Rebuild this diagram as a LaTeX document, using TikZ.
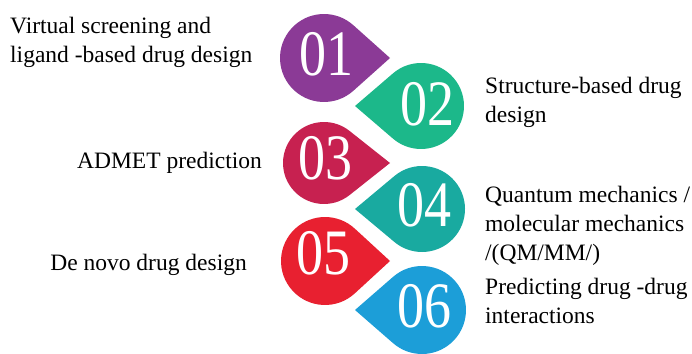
\documentclass[tikz,border=0pt]{standalone}
\usepackage{fontspec}
\setmainfont{Liberation Serif}

\definecolor{dropA}{RGB}{139,58,150}
\definecolor{dropB}{RGB}{28,184,138}
\definecolor{dropC}{RGB}{199,33,80}
\definecolor{dropD}{RGB}{25,170,160}
\definecolor{dropE}{RGB}{232,32,48}
\definecolor{dropF}{RGB}{28,158,216}

\tikzset{
	num/.style={text=white, font=\fontsize{54}{54}\selectfont, yscale=1.2, transform shape, inner sep=0pt},
	lbl/.style={font=\fontsize{23.5}{28.7}\selectfont, inner sep=0pt, align=left},
}

% teardrop: centre, radius, tip distance, direction (0 = right, 180 = left)
\newcommand{\drop}[5]{%
	\pgfmathsetmacro{\tang}{acos(#2/#3)}
	\fill[#5] (#1) ++(#4+\tang:#2) arc[start angle=#4+\tang, end angle=#4+360-\tang, radius=#2] -- ($(#1)+(#4:#3)$) -- cycle;
}

\usetikzlibrary{calc}

\begin{document}
\begin{tikzpicture}[x=1pt, y=-1pt]
	\useasboundingbox (0, 0) rectangle (692, 353);
	\coordinate (C1) at (324, 58);
	\coordinate (C2) at (421, 106);
	\coordinate (C3) at (324, 163);
	\coordinate (C4) at (422, 209);
	\coordinate (C5) at (325, 261);
	\coordinate (C6) at (422, 310);
	\drop{C1}{44}{66}{0}{dropA}
	\drop{C2}{43}{66}{180}{dropB}
	\drop{C3}{41}{66}{0}{dropC}
	\drop{C4}{43}{67}{180}{dropD}
	\drop{C5}{44}{65}{0}{dropE}
	\drop{C6}{44}{67}{180}{dropF}
	\node[num] (N1) at (326, 54) {01};
	\node[num] (N2) at (427, 104) {02};
	\node[num] (N3) at (325, 158) {03};
	\node[num] (N4) at (424, 205) {04};
	\node[num] (N5) at (323, 253) {05};
	\node[num] (N6) at (424, 306) {06};
	% multi-line labels are anchored on their last baseline
	\node[lbl, anchor=base west] (L1) at (10, 62) {Virtual screening and\\ligand -based drug design};
	\node[lbl, anchor=base west] (L2) at (485, 122) {Structure-based drug\\design};
	\node[lbl, anchor=base east] (L3) at (262, 168) {ADMET prediction};
	\node[lbl, anchor=base west] (L4) at (485, 260) {Quantum mechanics /\\molecular mechanics\\/(QM/MM/)};
	\node[lbl, anchor=base east] (L5) at (247, 270) {De novo drug design};
	\node[lbl, anchor=base west] (L6) at (485, 323) {Predicting drug -drug\\interactions};
\end{tikzpicture}
\end{document}
